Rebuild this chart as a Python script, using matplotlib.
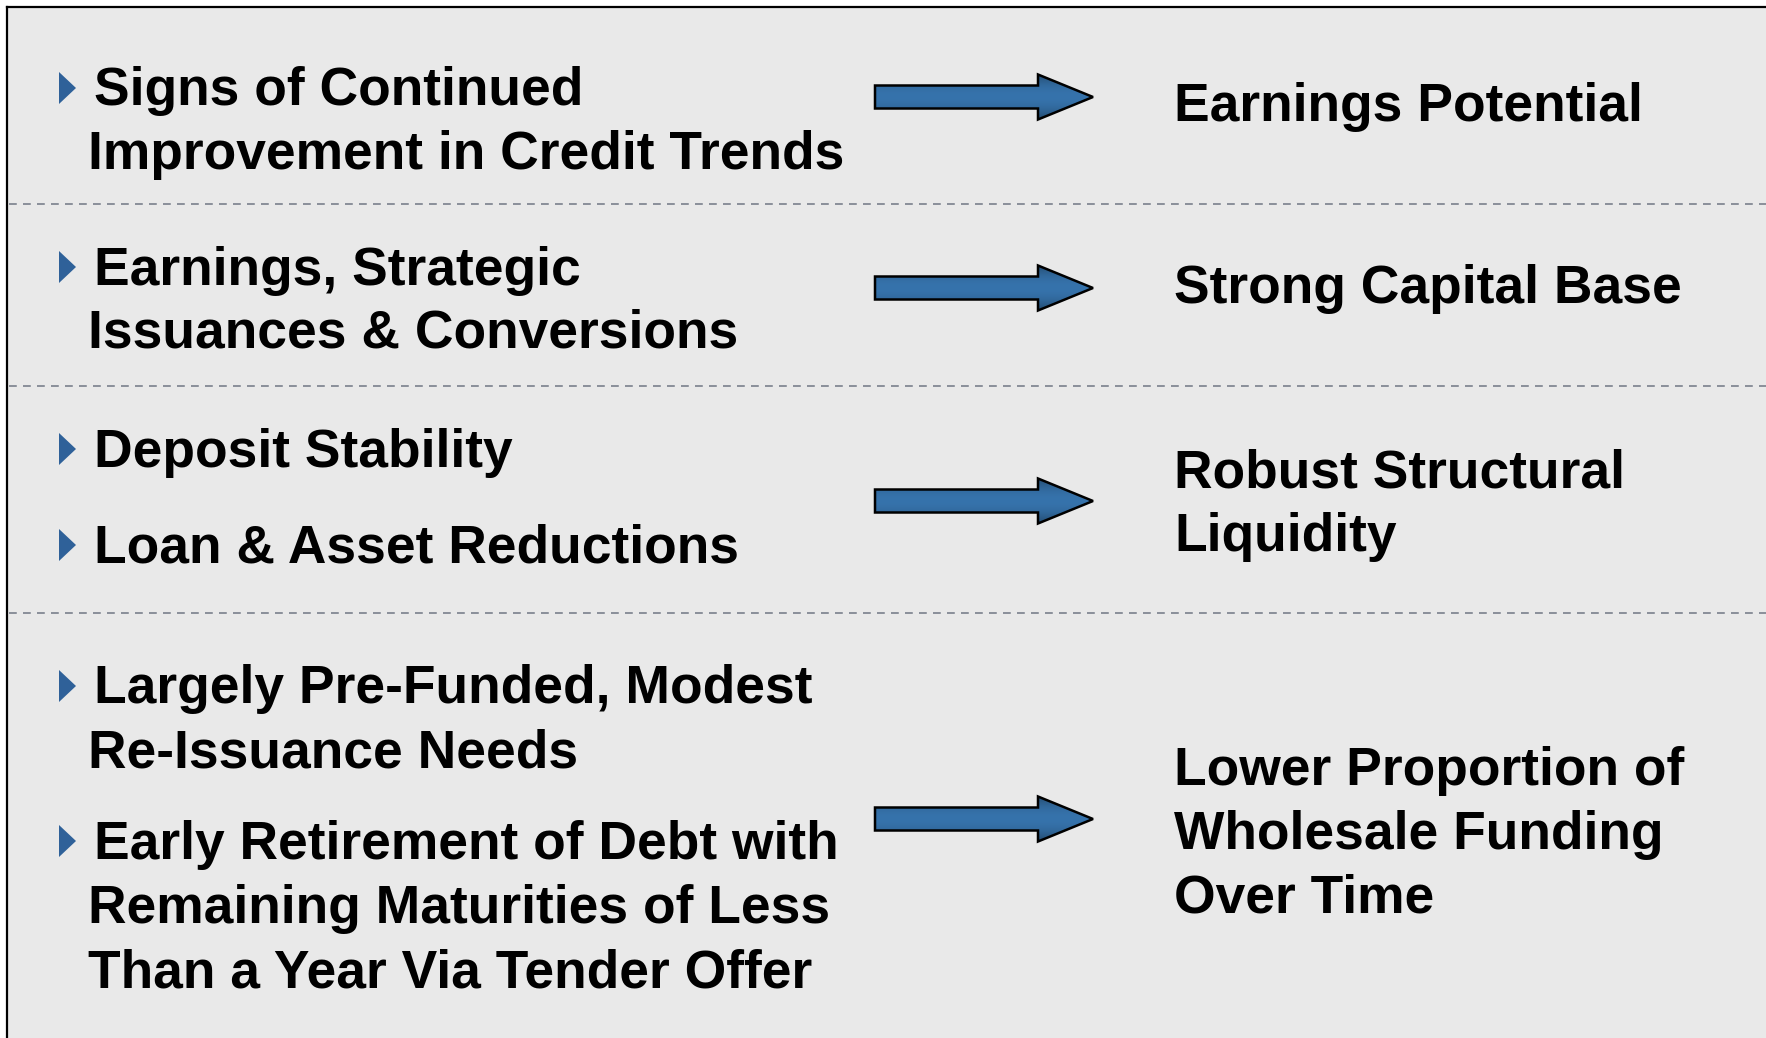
import numpy as np
import matplotlib
matplotlib.use("Agg")
import matplotlib.pyplot as plt
from matplotlib.patches import Polygon, Rectangle

# ---- content ----
left_items = [
    [["Signs of Continued", "Improvement in Credit Trends"]],
    [["Earnings, Strategic", "Issuances & Conversions"]],
    [["Deposit Stability"], ["Loan & Asset Reductions"]],
    [["Largely Pre-Funded, Modest", "Re-Issuance Needs"],
     ["Early Retirement of Debt with", "Remaining Maturities of Less",
      "Than a Year Via Tender Offer"]],
]
right_items = [
    ["Earnings Potential"],
    ["Strong Capital Base"],
    ["Robust Structural", "Liquidity"],
    ["Lower Proportion of", "Wholesale Funding", "Over Time"],
]
# layout (pixels, top-down)
left_line_centers = [[[88, 152]], [[267, 330]], [[449], [545]],
                     [[686, 750], [841, 906, 970]]]
right_line_centers = [[104], [286], [470, 534], [767, 831, 895]]
arrow_centers = [97, 288, 501, 819]
dividers = [204, 386, 613]

W, H = 1766, 1038
fig = plt.figure(figsize=(W / 100, H / 100), dpi=100)
ax = fig.add_axes([0, 0, 1, 1])
ax.set_xlim(0, W)
ax.set_ylim(H, 0)
ax.axis("off")

BG = "#e9e9e9"
ax.add_patch(Rectangle((7, 7), W, H, facecolor=BG, edgecolor="none", zorder=0))
ax.plot([7, 7], [7, H], color="black", lw=1.6, zorder=5, solid_capstyle="projecting")
ax.plot([7, W], [7, 7], color="black", lw=1.6, zorder=5, solid_capstyle="projecting")

for y in dividers:
    ax.plot([9, W], [y, y], color="#8a8f99", lw=1.4, linestyle=(0, (4.0, 3.2)), zorder=1)

FONT = "Liberation Sans"
FS = 38.4
CAP = 17.5  # baseline offset from line centre in px

for groups, centers in zip(left_items, left_line_centers):
    for lines, cys in zip(groups, centers):
        for i, (txt, cy) in enumerate(zip(lines, cys)):
            x = 94 if i == 0 else 88
            ax.text(x, cy + CAP, txt, fontsize=FS, fontweight="bold", family=FONT,
                    va="baseline", ha="left", color="black", zorder=3)
        cy0 = cys[0]
        ax.add_patch(Polygon([[59, cy0 - 16], [59, cy0 + 16], [76, cy0]], closed=True,
                             facecolor="#2f6199", edgecolor="none", zorder=3))

for lines, cys in zip(right_items, right_line_centers):
    for txt, cy in zip(lines, cys):
        ax.text(1174, cy + CAP, txt, fontsize=FS, fontweight="bold", family=FONT,
                va="baseline", ha="left", color="black", zorder=3)

# arrows with vertical gradient
grad = np.linspace(-1, 1, 64)
shade = 1 - 0.35 * np.abs(grad) ** 2
c_mid = np.array([0x36, 0x73, 0xac]) / 255
for cy in arrow_centers:
    x0, xn, xt = 875, 1038, 1093
    sh, hh = 11.5, 22.5
    verts = [[x0, cy - sh], [xn, cy - sh], [xn, cy - hh], [xt, cy],
             [xn, cy + hh], [xn, cy + sh], [x0, cy + sh]]
    poly = Polygon(verts, closed=True, facecolor="none", edgecolor="black",
                   lw=1.8, joinstyle="miter", zorder=4)
    ax.add_patch(poly)
    img = np.ones((64, 2, 3)) * c_mid[None, None, :] * shade[:, None, None]
    im = ax.imshow(img, extent=[x0, xt, cy + hh, cy - hh], aspect="auto",
                   interpolation="bilinear", zorder=3.5)
    clip = Polygon(verts, closed=True, transform=ax.transData)
    im.set_clip_path(clip)

ax.set_xlim(0, W)
ax.set_ylim(H, 0)
fig.savefig("out.png", dpi=100, facecolor="white")
